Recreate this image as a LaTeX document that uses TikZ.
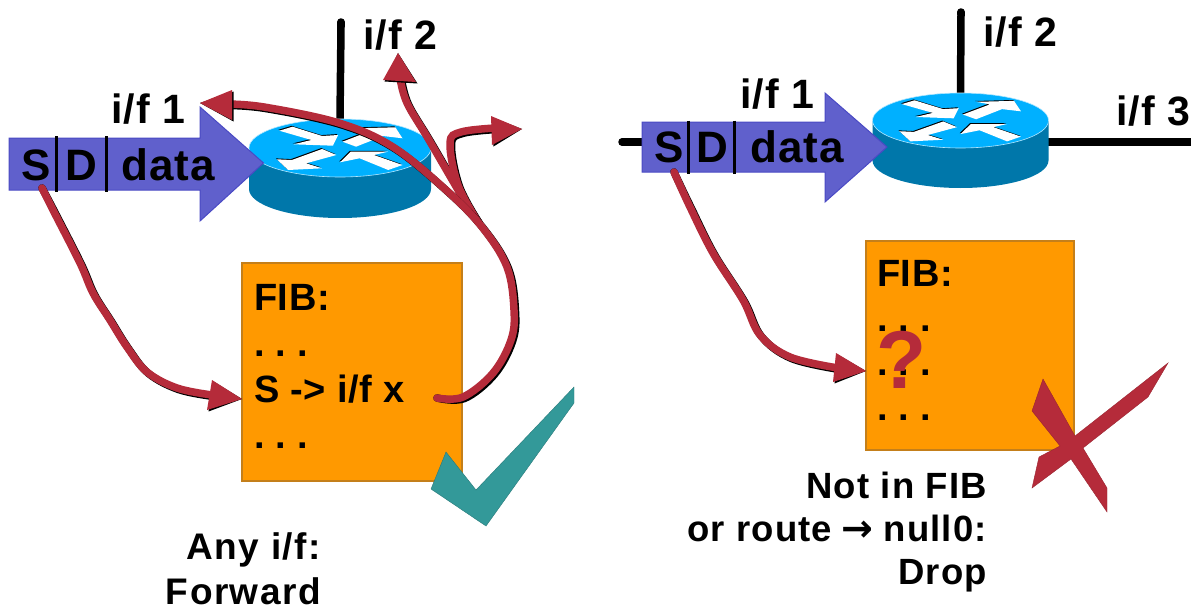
\documentclass[tikz,border=0pt]{standalone}
\usepackage{fontspec}
\setmainfont{Liberation Sans}
\newfontfamily\arrowfont{DejaVu Sans}
\usetikzlibrary{shapes.geometric}
\definecolor{redc}{HTML}{B52B3A}
\definecolor{orangec}{HTML}{FF9900}
\definecolor{orangeb}{HTML}{C47F1A}
\definecolor{bluec}{HTML}{6060CC}
\definecolor{blueb}{HTML}{4A4AC4}
\definecolor{rtop}{HTML}{00B0FF}
\definecolor{rside}{HTML}{0077AA}
\definecolor{tealc}{HTML}{339999}
\newcommand{\fs}[2]{\fontsize{#1}{#1}\selectfont\bfseries\addfontfeature{LetterSpace=#2}\frenchspacing}
\tikzset{
  lab/.style={inner sep=0pt,anchor=base west,text=black,font=\fs{41}{3}},
  pack/.style={inner sep=0pt,anchor=base west,text=black,font=\fs{44}{2.5}},
  fibt/.style={inner sep=0pt,anchor=base west,text=black,font=\fs{38}{1.5}},
  note/.style={inner sep=0pt,anchor=base east,text=black,font=\fs{36.5}{3.2}},
  notel/.style={inner sep=0pt,anchor=base east,text=black,font=\fs{37}{4}},
  fibbox/.style={rectangle,draw=orangeb,line width=1.2pt,fill=orangec,inner sep=0pt},
  wire/.style={line width=7.5pt,line cap=round,black},
  divider/.style={line width=3pt,black},
  curve/.style={line width=7.5pt,line cap=round,redc},
  curveshadow/.style={line width=7.5pt,line cap=round,black},
  head/.style={fill=redc},
  headshadow/.style={fill=black},
  rtopst/.style={ellipse,fill=rtop,draw=white!70!rtop,line width=0.6pt,inner sep=0pt}
}
\newcommand{\redcurve}[1]{%
  \draw[curveshadow,shift={(1.5,1.5)}] plot[smooth,tension=0.6] coordinates {#1};
  \draw[curve] plot[smooth,tension=0.6] coordinates {#1};}
\newcommand{\redhead}[3]{%
  \fill[headshadow,shift={(1.5,1.5)}] (#1) -- (#2) -- (#3) -- cycle;
  \fill[head] (#1) -- (#2) -- (#3) -- cycle;}
\newcommand{\routericon}[6]{%
  \fill[rside] (#2-#4,#3) -- (#2-#4,#3+#6) arc[start angle=180,end angle=0,x radius=#4,y radius=#5]
     -- (#2+#4,#3) -- cycle;
  \node[rtopst,minimum width=2*#4 pt,minimum height=2*#5 pt] (#1) at (#2,#3) {};
  \begin{scope}[shift={(#2,#3)},xscale=#4/91,yscale=#5/29]
    \foreach \sh/\fc in {-0.9/black,0/white}{
      \begin{scope}[shift={(\sh,\sh)}]
      \fill[\fc] (-60.7,-17.3)--(-47.5,-21.3)--(-17.9,-12)--(-1.8,-13)--(-7.1,-2.3)--(-46.4,-3.7)--(-28.6,-8)--cycle;
      \fill[\fc] (62.5,-9.7)--(55.4,-20.7)--(16.1,-19.7)--(30.4,-17)--(2.5,-6.3)--(16.1,-1.3)--(42.9,-12)--cycle;
      \fill[\fc] (-63.2,11.3)--(-51.8,22)--(-17.9,20.3)--(-33.9,15.3)--(-3.6,7)--(-17.9,1)--(-48.2,12)--cycle;
      \fill[\fc] (62.5,17)--(48.2,22)--(19.6,10.3)--(0,14.3)--(10.7,3.7)--(48.2,3.7)--(33.9,7)--cycle;
      \end{scope}}
  \end{scope}}
\newcommand{\packet}[8]{%
  \filldraw[fill=bluec,draw=blueb,line width=1pt] (#1,#4) -- (#2,#4) -- (#2,#6) -- (#3,#8) -- (#2,#7) -- (#2,#5) -- (#1,#5) -- cycle;}
\begin{document}
\begin{tikzpicture}[x=1pt,y=-1pt]
\useasboundingbox (0,0) rectangle (1191,610);
%%%%% LEFT PANEL
\coordinate (L2end) at (341,22);
\routericon{rL}{340}{148}{91}{29}{41}
\draw[wire,line cap=butt] (rL.north) -- (341,26);
\draw[wire] (341,26) -- (L2end);
\node[lab] (Lif2) at (363,50) {i/f 2};
\node[lab] (Lif1) at (111,123) {i/f 1};
\packet{9}{200}{263.5}{138}{190}{107}{221}{163}
\draw[divider] (56.5,136) -- (56.5,192);
\draw[divider] (106,136) -- (106,192);
\node[pack] (LS) at (21,180) {S};
\node[pack] (LD) at (65,180) {D};
\node[pack] (Ldata) at (121,180) {data};
\node[fibbox,minimum width=220pt,minimum height=218pt] (Lfib) at (352,372) {};
\node[fibt] (Lf1) at (254,310) {FIB:};
\node[fibt] (Lf2) at (254,356) {. . .};
\node[fibt] (Lf3) at (254,402) {S -> i/f x};
\node[fibt] (Lf4) at (254,448) {. . .};
\coordinate (Lstart) at (42,188);
\coordinate (Lh1t) at (242,399);
\redcurve{(Lstart) (53,210) (80,263) (93,293) (110,320) (127,347) (147,372) (177,388) (212,395)}
\redhead{Lh1t}{212,380}{207,410}
\coordinate (Lh3t) at (398,53);
\redcurve{(478,222) (464,200) (429,140) (407,103) (400,78)}
\redhead{Lh3t}{383,80}{416,82}
\coordinate (Lh4t) at (522,129);
\redcurve{(478,222) (458,185) (450,143) (461,132) (495,128)}
\redhead{Lh4t}{491,116}{492,145}
\coordinate (Lx) at (437,398);
\coordinate (Lh2t) at (200,103);
\redcurve{(Lx) (463,397) (493,373) (511,340) (514,310) (507,267) (482,227) (446,190) (393,147) (339,123) (264,107) (225,104)}
\redhead{Lh2t}{232,90}{232,120}
\filldraw[fill=tealc,draw=tealc!80!black,line width=0.4pt] (446,452) -- (476,490) -- (574,387) -- (574,403) -- (486,526) -- (431,489) -- cycle;
\node[notel] (Lany) at (321,559) {Any i/f:};
\node[notel,text depth=0pt] (Lfw) at (321,604) {Forward};
%%%%% RIGHT PANEL
\coordinate (R2end) at (961,12);
\coordinate (R3end) at (1191,142);
\coordinate (R3start) at (1046,142);
\coordinate (R1end) at (622,142);
\coordinate (R1start) at (650,142);
\draw[wire] (R1end) -- (R1start);
\draw[wire,line cap=butt] (R3start) -- (R3end);
\routericon{rR}{960.5}{120.5}{88}{27.5}{40}
\draw[wire,line cap=butt] (rR.north) -- (961,14);
\draw[wire] (961,14) -- (R2end);
\node[lab] (Rif2) at (983,47) {i/f 2};
\node[lab] (Rif1) at (740,108) {i/f 1};
\node[lab] (Rif3) at (1116,125) {i/f 3};
\packet{642}{825}{887}{122}{172}{93}{202}{147}
\draw[divider] (688,120.5) -- (688,173.5);
\draw[divider] (734,120.5) -- (734,173.5);
\node[pack] (RS) at (654,162) {S};
\node[pack] (RD) at (696,162) {D};
\node[pack] (Rdata) at (750,162) {data};
\node[fibbox,minimum width=208pt,minimum height=209pt] (Rfib) at (970,345.5) {};
\node[fibt] (Rf1) at (877,286) {FIB:};
\node[fibt] (Rf2) at (877,331) {. . .};
\node[fibt] (Rf3) at (877,375) {. . .};
\node[fibt] (Rf4) at (877,420) {. . .};
\node[inner sep=0pt,anchor=base,text=redc,font=\fs{82}{0}] (Rq) at (902,388) {?};
\coordinate (Rstart) at (674,172);
\coordinate (Rht) at (866,371);
\redcurve{(Rstart) (690,207) (713,253) (743,300) (760,335) (790,357) (838,368)}
\redhead{Rht}{836,353}{833,382}
\filldraw[fill=redc,draw=redc!85!black,line width=0.4pt] (1043,379) -- (1075,436) -- (1168,363) -- (1148,397) -- (1083,448) -- (1107,488) -- (1107,512) -- (1071,459) -- (1032,488) -- (1039,457) -- (1060,446) -- (1032,411) -- cycle;
\node[note] (Rn1) at (987,498) {Not in FIB};
\node[note] (Rn2) at (987,541) {or route\hspace{-1.5pt} {\arrowfont\fontsize{38}{38}\selectfont →}\hspace{-1.5pt} null0:};
\node[note] (Rn3) at (987,584) {Drop};
\end{tikzpicture}
\end{document}
